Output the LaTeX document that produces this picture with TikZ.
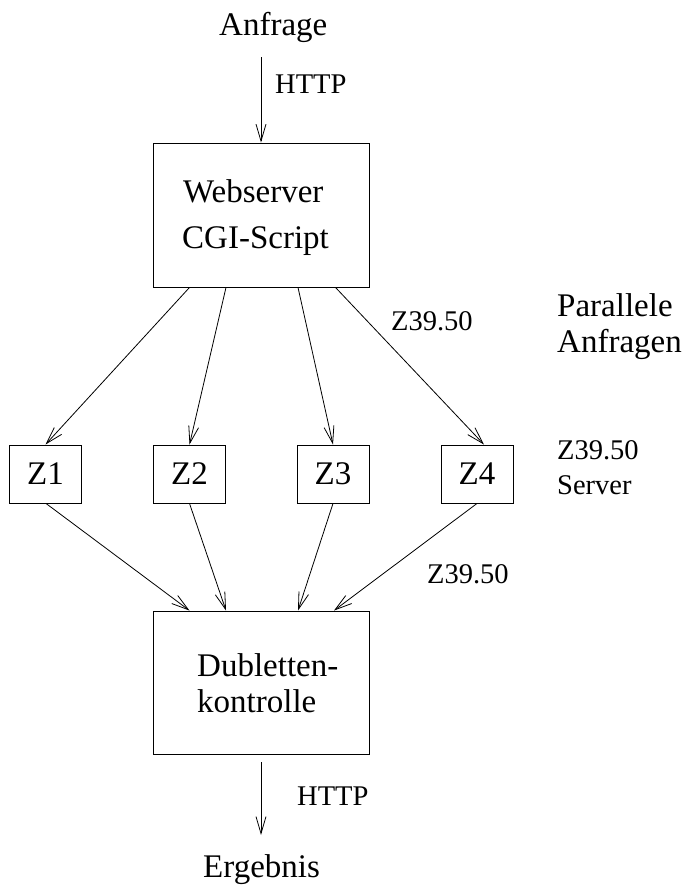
\documentclass[tikz,border=0pt]{standalone}
\usepackage{fontspec}
\setmainfont{Liberation Serif}
\usetikzlibrary{arrows.meta}
\begin{document}
\begin{tikzpicture}[x=1pt,y=-1pt,
  big/.style={font=\fontsize{33}{36}\selectfont},
  small/.style={font=\fontsize{28.5}{35}\selectfont},
  box/.style={draw,line width=0.9pt,inner sep=0pt},
  zbox/.style={box,big,minimum width=72pt,minimum height=58pt},
  arr/.style={line width=0.8pt,-{Straight Barb[length=17pt,width=10pt,line width=0.8pt]}},
  lbl/.style={anchor=base west,inner sep=0pt}]
\useasboundingbox (0,0) rectangle (687,886);
% boxes
\node[box,minimum width=216pt,minimum height=144pt] (web) at (261,215) {};
\node[box,minimum width=216pt,minimum height=143pt] (dub) at (261,682.5) {};
\node[zbox] (z1) at (45.5,474) {Z1};
\node[zbox] (z2) at (189.5,474) {Z2};
\node[zbox] (z3) at (333,474) {Z3};
\node[zbox] (z4) at (477,474) {Z4};
% box texts
\node[lbl,big] (webt) at (183,202) {Webserver};
\node[lbl,big] (cgit) at (182,248) {CGI-Script};
\node[lbl,big] (dubt) at (197,676) {Dubletten-};
\node[lbl,big] (kont) at (197,712) {kontrolle};
% free texts
\node[lbl,big] (anf) at (219,35) {Anfrage};
\node[lbl,big] (erg) at (203,877) {Ergebnis};
\node[lbl,small] (http1) at (275,93) {HTTP};
\node[lbl,small] (http2) at (297,805) {HTTP};
\node[lbl,small] (zq1) at (391,330) {Z39.50};
\node[lbl,small] (zq2) at (427,583) {Z39.50};
\node[lbl,big] (par) at (557,316) {Parallele};
\node[lbl,big] (anf2) at (557,352) {Anfragen};
\node[lbl,small] (zs) at (557,459) {Z39.50};
\node[lbl,small] (srv) at (557,494) {Server};
% connectors
\coordinate (in) at (261,57);
\coordinate (out) at (261,835);
\draw[arr] (in) -- (web.north);
\draw[arr] ([xshift=-71.5pt]web.south) -- (z1.north);
\draw[arr] ([xshift=-35pt]web.south) -- (z2.north);
\draw[arr] ([xshift=37pt]web.south) -- (z3.north);
\draw[arr] ([xshift=74.5pt]web.south) -- ([xshift=7pt]z4.north);
\draw[arr] ([xshift=0.5pt]z1.south) -- ([xshift=-71.5pt]dub.north);
\draw[arr] (z2.south) -- ([xshift=-35pt]dub.north);
\draw[arr] (z3.south) -- ([xshift=37pt]dub.north);
\draw[arr] (z4.south) -- ([xshift=73pt]dub.north);
\draw[arr] ([yshift=-8pt]dub.south) -- (out);
\end{tikzpicture}
\end{document}
